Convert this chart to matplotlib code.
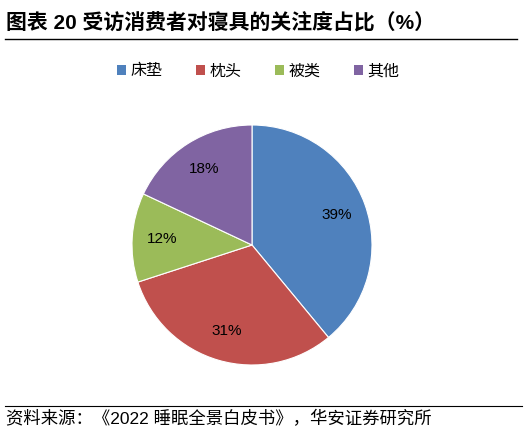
import matplotlib
matplotlib.use("Agg")
import matplotlib.pyplot as plt
from matplotlib.patches import Patch

plt.rcParams['font.family'] = ['Liberation Sans', 'Noto Sans CJK SC', 'DejaVu Sans']

# ------------------------------------------------------------
# Data
# ------------------------------------------------------------
categories = ["床垫", "枕头", "被类", "其他"]
shares = [39, 31, 12, 18]
colors = ["#4F81BD", "#C0504D", "#9BBB59", "#8064A2"]

title = "图表 20 受访消费者对寝具的关注度占比（%）"
source = "资料来源：《2022 睡眠全景白皮书》，华安证券研究所"

# ------------------------------------------------------------
# Figure
# ------------------------------------------------------------
W, H = 531, 433
fig = plt.figure(figsize=(W / 100, H / 100), dpi=100)

# title + rule
fig.text(6 / W, 1 - 30 / H, title, fontsize=15, fontweight="bold",
         ha="left", va="baseline")
fig.add_artist(plt.Line2D([5 / W, 517 / W], [1 - 39 / H, 1 - 39 / H],
                          color="black", linewidth=1))

# pie
cx, cy, r = 252, 245, 120
ax = fig.add_axes([(cx - r) / W, (H - cy - r) / H, 2 * r / W, 2 * r / H])
wedges, texts, autotexts = ax.pie(
    shares,
    colors=colors,
    startangle=90,
    counterclock=False,
    autopct="%d%%",
    pctdistance=0.75,
    wedgeprops=dict(edgecolor="white", linewidth=0.8),
    textprops=dict(fontsize=11, color="black"),
)
ax.set_aspect("equal")
ax.set_xlim(-1, 1)
ax.set_ylim(-1, 1)
ax.axis("off")

# legend
handles = [Patch(facecolor=c, edgecolor="none") for c in colors]
fig.legend(handles, categories, loc="center", bbox_to_anchor=(258 / W, 1 - 71 / H),
           ncol=4, frameon=False, fontsize=11.5, handlelength=0.6,
           handleheight=0.6, handletextpad=0.25, columnspacing=2.1)

# source + rule
fig.add_artist(plt.Line2D([5 / W, 522 / W], [1 - 406 / H, 1 - 406 / H],
                          color="black", linewidth=0.8))
fig.text(6 / W, 1 - 424 / H, source, fontsize=12.5, ha="left", va="baseline")

fig.savefig("out.png", dpi=100)
